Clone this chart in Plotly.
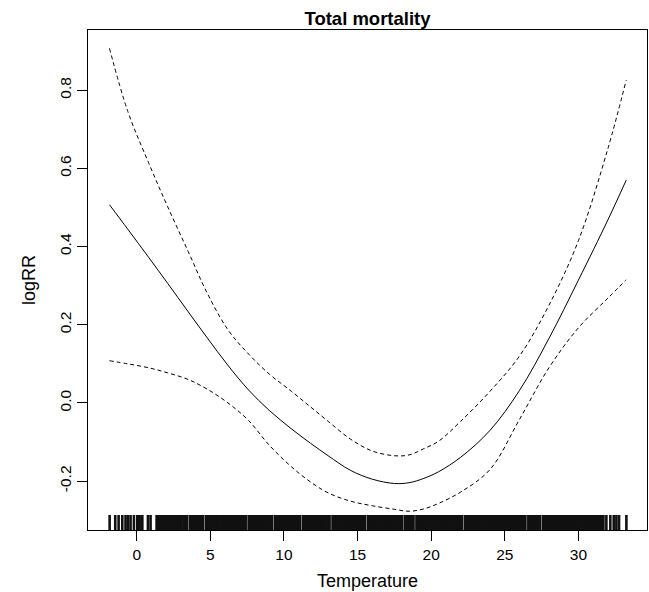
import plotly.graph_objects as go

# ---- Data ----
temp = [-1.85, -0.6, 0.8, 2.1, 3.5, 4.8, 6.2, 7.6, 9.0, 10.5, 11.8, 13.0, 14.5,
        16.0, 17.5, 18.5, 19.5, 20.5, 22.0, 24.0, 26.0, 28.0, 30.0, 32.0, 33.25]
logrr = [0.507, 0.444, 0.373, 0.306, 0.233, 0.166, 0.096, 0.033, -0.019, -0.066,
         -0.103, -0.135, -0.172, -0.195, -0.206, -0.204, -0.193, -0.176, -0.139,
         -0.070, 0.032, 0.165, 0.314, 0.468, 0.570]
upper = [0.907, 0.745, 0.615, 0.502, 0.387, 0.280, 0.187, 0.125, 0.074, 0.030,
         -0.010, -0.047, -0.092, -0.123, -0.135, -0.133, -0.117, -0.098, -0.047,
         0.030, 0.120, 0.250, 0.415, 0.650, 0.826]
lower = [0.108, 0.100, 0.090, 0.077, 0.060, 0.035, 0.000, -0.045, -0.108, -0.163,
         -0.202, -0.230, -0.251, -0.263, -0.272, -0.277, -0.271, -0.257, -0.228,
         -0.170, -0.042, 0.090, 0.192, 0.268, 0.315]

rug_values = [
    -1.84, -1.46, -1.23, -0.98, -0.76, -0.60, -0.42, -0.19, 0.04, 0.13, 0.20, 0.38,
    0.76, 0.94, 1.35, 1.44, 1.51, 1.62, 1.71, 1.85, 1.94, 2.03, 2.12, 2.24,
    2.35, 2.45, 2.6, 2.7, 2.8, 2.95, 3.05, 3.2,
    3.3, 3.4, 3.6, 3.7, 3.8, 3.9,
    4.0, 4.1, 4.2, 4.3, 4.4, 4.5, 4.7, 4.8, 4.9,
    5.0, 5.1, 5.2, 5.3, 5.4, 5.5, 5.6, 5.7, 5.8, 5.9,
    6.0, 6.1, 6.2, 6.3, 6.4, 6.5, 6.6, 6.7, 6.8, 6.9,
    7.0, 7.1, 7.2, 7.3, 7.4, 7.6, 7.7, 7.8, 7.9,
    8.0, 8.1, 8.2, 8.3, 8.4, 8.5, 8.6, 8.7, 8.8, 8.9,
    9.0, 9.1, 9.2, 9.4, 9.5, 9.6, 9.7, 9.8, 9.9,
    10.0, 10.1, 10.2, 10.3, 10.4, 10.5, 10.6, 10.7, 10.8, 10.9,
    11.0, 11.1, 11.3, 11.4, 11.5, 11.6, 11.7, 11.8, 11.9,
    12.0, 12.1, 12.2, 12.3, 12.4, 12.5, 12.6, 12.7, 12.8, 12.9,
    13.0, 13.1, 13.3, 13.4, 13.5, 13.6, 13.7, 13.8, 13.9,
    14.0, 14.1, 14.2, 14.3, 14.4, 14.5, 14.6, 14.7, 14.8, 14.9,
    15.0, 15.1, 15.2, 15.3, 15.4, 15.5, 15.7, 15.8, 15.9,
    16.0, 16.1, 16.2, 16.3, 16.4, 16.5, 16.6, 16.7, 16.8, 16.9,
    17.0, 17.1, 17.2, 17.3, 17.4, 17.5, 17.6, 17.7, 17.8, 17.9,
    18.0, 18.2, 18.3, 18.4, 18.5, 18.6, 18.7, 18.8,
    19.0, 19.1, 19.2, 19.3, 19.4, 19.5, 19.6, 19.7, 19.8, 19.9,
    20.0, 20.1, 20.2, 20.3, 20.4, 20.5, 20.6, 20.7, 20.8, 20.9,
    21.0, 21.1, 21.2, 21.3, 21.4, 21.5, 21.6, 21.7, 21.8, 21.9,
    22.0, 22.1, 22.3, 22.4, 22.5, 22.6, 22.7, 22.8, 22.9,
    23.0, 23.1, 23.2, 23.3, 23.4, 23.5, 23.6, 23.7, 23.8, 23.9,
    24.0, 24.1, 24.2, 24.3, 24.4, 24.5, 24.6, 24.7, 24.8, 24.9,
    25.0, 25.1, 25.2, 25.3, 25.4, 25.5, 25.6, 25.7, 25.8, 25.9,
    26.0, 26.1, 26.2, 26.3, 26.4, 26.6, 26.7, 26.8, 26.9,
    27.0, 27.1, 27.2, 27.3, 27.4, 27.6, 27.7, 27.8, 27.9,
    28.0, 28.1, 28.2, 28.3, 28.4, 28.5, 28.6, 28.7, 28.8, 28.9,
    29.0, 29.1, 29.2, 29.3, 29.4, 29.5, 29.6, 29.7, 29.8, 29.9,
    30.0, 30.1, 30.2, 30.3, 30.4, 30.5, 30.6, 30.7, 30.8, 30.9,
    31.0, 31.1, 31.2, 31.3, 31.4, 31.5, 31.6, 31.7,
    31.9, 32.17, 32.4, 32.58, 32.76, 33.26,
]

x_ticks = [0, 5, 10, 15, 20, 25, 30]
y_ticks = [-0.2, 0.0, 0.2, 0.4, 0.6, 0.8]
y_tick_labels = ["-0.2", "0.0", "0.2", "0.4", "0.6", "0.8"]

title_text = "Total mortality"
x_title = "Temperature"
y_title = "logRR"

# ---- Axis ranges (R style 4% extension) ----
x_range = [-3.31, 34.66]
y_range = [-0.325, 0.954]
rug_len = 0.03 * (y_range[1] - y_range[0])

FONT = "Liberation Sans, Arial, Helvetica, sans-serif"

fig = go.Figure()

# rug
rx, ry = [], []
for v in rug_values:
    rx += [v, v, None]
    ry += [y_range[0], y_range[0] + rug_len, None]
fig.add_trace(go.Scatter(x=rx, y=ry, mode="lines",
                         line=dict(color="#111111", width=2.6),
                         hoverinfo="skip", showlegend=False))

fig.add_trace(go.Scatter(x=temp, y=upper, mode="lines",
                         line=dict(color="black", width=1, dash="4px,3px", shape="spline"),
                         showlegend=False))
fig.add_trace(go.Scatter(x=temp, y=lower, mode="lines",
                         line=dict(color="black", width=1, dash="4px,3px", shape="spline"),
                         showlegend=False))
fig.add_trace(go.Scatter(x=temp, y=logrr, mode="lines",
                         line=dict(color="black", width=1, shape="spline"),
                         showlegend=False))

fig.update_layout(
    width=649, height=592,
    margin=dict(l=88, r=2, t=30, b=62),
    paper_bgcolor="white", plot_bgcolor="white",
    font=dict(family=FONT, color="black", size=15.5),
    title=dict(text="<b>" + title_text + "</b>", x=0.5, xref="paper", xanchor="center",
               y=1 - 19 / 592, yref="container", yanchor="middle",
               font=dict(size=18.5, family=FONT, color="black")),
)

fig.update_xaxes(
    range=x_range, tickvals=x_ticks, ticks="outside", ticklen=10, tickwidth=1,
    tickcolor="black", showline=True, linecolor="black", linewidth=1, mirror=True,
    showgrid=False, zeroline=False, automargin=False,
    title=dict(text=x_title, font=dict(size=18, family=FONT), standoff=12),
)
fig.update_yaxes(
    range=y_range, tickvals=y_ticks, ticktext=y_tick_labels, tickangle=-90,
    ticks="outside", ticklen=10, tickwidth=1,
    tickcolor="black", showline=True, linecolor="black", linewidth=1, mirror=True,
    showgrid=False, zeroline=False, automargin=False,
    title=dict(text=y_title, font=dict(size=18, family=FONT), standoff=16),
)

fig.write_html("out.html",
               config={"displayModeBar": False},
               post_script="document.body.style.margin='0';document.body.style.overflow='hidden';")
